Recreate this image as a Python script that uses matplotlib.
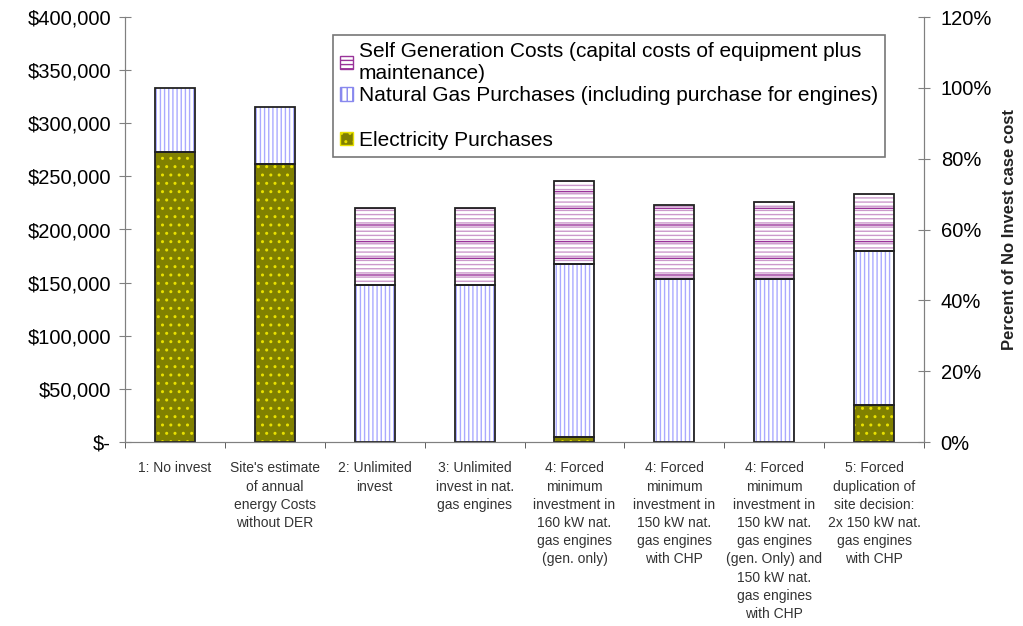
import numpy as np
import matplotlib.pyplot as plt
from matplotlib.patches import Patch
from matplotlib.ticker import FuncFormatter, PercentFormatter

plt.rcParams['font.family'] = ['Liberation Sans', 'DejaVu Sans']
plt.rcParams['hatch.linewidth'] = 1.0

# Data (annual cost, $)
categories = [
    "1: No invest",
    "Site's estimate\nof annual\nenergy Costs\nwithout DER",
    "2: Unlimited\ninvest",
    "3: Unlimited\ninvest in nat.\ngas engines",
    "4: Forced\nminimum\ninvestment in\n160 kW nat.\ngas engines\n(gen. only)",
    "4: Forced\nminimum\ninvestment in\n150 kW nat.\ngas engines\nwith CHP",
    "4: Forced\nminimum\ninvestment in\n150 kW nat.\ngas engines\n(gen. Only) and\n150 kW nat.\ngas engines\nwith CHP",
    "5: Forced\nduplication of\nsite decision:\n2x 150 kW nat.\ngas engines\nwith CHP",
]
electricity = [273000, 261500, 0, 0, 5000, 0, 0, 35000]
natural_gas = [60000, 54000, 148000, 148000, 163000, 153500, 153500, 145000]
self_gen = [0, 0, 72000, 72000, 78000, 70000, 72500, 53000]

no_invest_total = 333333

fig = plt.figure(figsize=(10.23, 6.26), dpi=100)
ax = fig.add_axes([125 / 1023, 184 / 626, 799 / 1023, 425 / 626])

x = np.arange(len(categories))
w = 0.4
elec = np.array(electricity)
gas = np.array(natural_gas)
sg = np.array(self_gen)

# electricity: olive with dots
ax.bar(x, elec, w, color='#808000', edgecolor='#e8e000', hatch='..', linewidth=0)
# gas: white with blue vertical lines
ax.bar(x, gas, w, bottom=elec, color='white', edgecolor='#aaaaff', hatch='||||', linewidth=0)
# self generation: plum horizontal lines with darker stripes
ax.bar(x, sg, w, bottom=elec + gas, color='white', edgecolor='#cc99cc', hatch='----', linewidth=0)
ax.bar(x, sg, w, bottom=elec + gas, color='none', edgecolor='#993399', hatch='-', linewidth=0)

# outlines of segments
for vals, base in [(elec, 0), (gas, elec), (sg, elec + gas)]:
    mask = vals > 0
    ax.bar(x[mask], vals[mask], w, bottom=np.broadcast_to(base, vals.shape)[mask],
           color='none', edgecolor='#222222', linewidth=1.3)

ax.set_xlim(-0.5, len(categories) - 0.5)
ax.set_ylim(0, 400000)
ax.set_yticks(np.arange(0, 400001, 50000))
ax.yaxis.set_major_formatter(FuncFormatter(lambda v, p: '$-' if v == 0 else f'${v:,.0f}'))
ax.tick_params(axis='y', labelsize=14.5, direction='inout', length=8, color='#808080', pad=6)

ax.set_xticks(x)
ax.set_xticklabels(categories, fontsize=10, color='#333333', linespacing=1.38)
ax.set_xticks(np.arange(-0.5, len(categories), 1), minor=True)
ax.tick_params(axis='x', which='major', length=0, pad=14)
ax.tick_params(axis='x', which='minor', length=4, direction='out', color='#444444')

ax.spines['top'].set_visible(False)
for s in ['left', 'bottom', 'right']:
    ax.spines[s].set_color('#808080')

ax2 = ax.twinx()
ax2.set_ylim(0, 400000 / no_invest_total)
ax2.set_yticks(np.arange(0, 1.21, 0.2))
ax2.yaxis.set_major_formatter(PercentFormatter(1.0, decimals=0))
ax2.tick_params(axis='y', labelsize=14.5, direction='inout', length=8, color='#808080', pad=8)
ax2.set_ylabel('Percent of No Invest case cost', fontsize=12, fontweight='bold',
               color='#222222')
ax2.yaxis.set_label_coords(1.097, 0.5)
ax2.spines['top'].set_visible(False)
for s in ['left', 'bottom', 'right']:
    ax2.spines[s].set_color('#808080')

handles = [
    Patch(facecolor='white', edgecolor='#993399', hatch='----',
          label='Self Generation Costs (capital costs of equipment plus\nmaintenance)'),
    Patch(facecolor='white', edgecolor='#8888ee', hatch='|||',
          label='Natural Gas Purchases (including purchase for engines)'),
    Patch(facecolor='none', edgecolor='none', label=' '),
    Patch(facecolor='#808000', edgecolor='#e8e000', hatch='..',
          label='Electricity Purchases'),
]
leg = ax.legend(handles=handles, loc='upper left', bbox_to_anchor=(0.260, 0.958),
                fontsize=15, frameon=True, fancybox=False, edgecolor='#555555',
                handlelength=0.6, handleheight=0.6, handletextpad=0.3,
                labelspacing=0.15, borderpad=0.35, borderaxespad=0)
leg.get_frame().set_linewidth(1.2)

fig.savefig('out.png', dpi=100)
